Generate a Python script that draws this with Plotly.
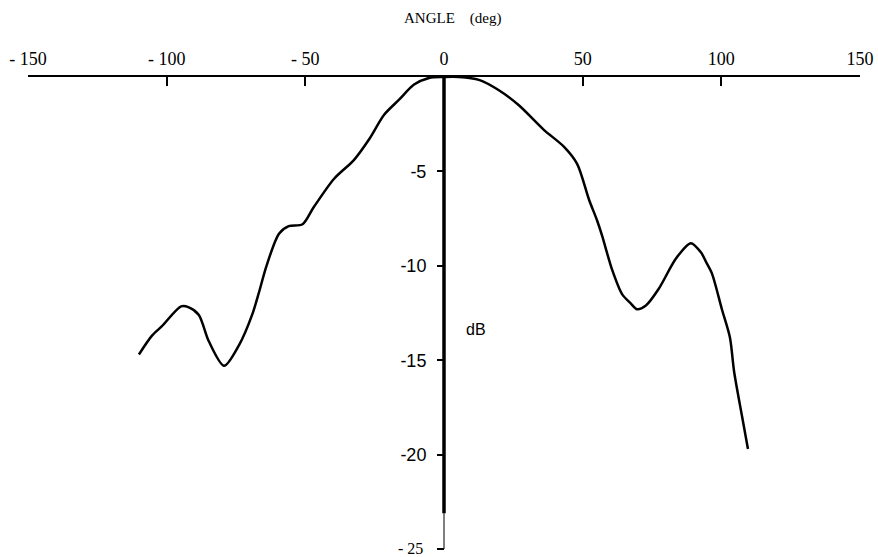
import plotly.graph_objects as go

angle_deg = [-110, -105.3, -101.7, -94.8, -92, -88.4, -84.8, -79.3, -73.9, -69.2, -66.7, -64,
             -59.5, -56, -51, -47, -39.7, -32.5, -27, -21.6, -16.2, -10.8, -5.4, 0,
             5.4, 12.6, 19.8, 27, 36, 43.3, 48, 52.3, 55.2, 57, 60.6, 64.2, 67.4, 69.6,
             72.8, 77.5, 83.7, 89, 92.7, 94.5, 96.6, 100.2, 103.1, 104.6, 107.5, 109.6]
gain_db = [-14.7, -13.7, -13.2, -12.15, -12.2, -12.6, -14.0, -15.3, -14.2, -12.6, -11.4, -10.0,
           -8.3, -7.9, -7.8, -6.9, -5.4, -4.4, -3.3, -2.0, -1.2, -0.4, -0.05, 0.0,
           0.0, -0.15, -0.7, -1.5, -2.8, -3.7, -4.6, -6.5, -7.6, -8.4, -10.2, -11.5, -12.0, -12.3,
           -12.1, -11.2, -9.6, -8.8, -9.3, -9.8, -10.4, -12.3, -13.8, -15.6, -18.0, -19.7]

x_tick_vals = [-150, -100, -50, 0, 50, 100, 150]
x_tick_text = ["- 150", "- 100", "- 50", "0", "50", "100", "150"]
y_tick_vals = [-5, -10, -15, -20, -25]
y_tick_text = ["-5", "-10", "-15", "-20", ""]

fig = go.Figure()
fig.add_trace(go.Scatter(x=angle_deg, y=gain_db, mode="lines",
                         line=dict(color="black", width=2.5, shape="spline", smoothing=0.8),
                         showlegend=False, hoverinfo="skip"))

# vertical dB axis at 0 deg
fig.add_shape(type="line", xref="x", yref="y", x0=0, x1=0, y0=0, y1=-23.1,
              line=dict(color="black", width=3.5), layer="above")
fig.add_shape(type="line", xref="x", yref="y", x0=0, x1=0, y0=-23.1, y1=-25,
              line=dict(color="black", width=1), layer="above")

fig.add_annotation(text="ANGLE\u00a0\u00a0\u00a0\u00a0(deg)", xref="x", x=3, yref="paper", y=1,
                   yanchor="bottom", yshift=48, showarrow=False,
                   font=dict(family="Liberation Serif", size=15, color="black"))
fig.add_annotation(text="dB", xref="x", x=11.6, yref="y", y=-13.35, showarrow=False,
                   font=dict(family="Liberation Sans", size=16, color="black"))
fig.add_annotation(text="- 25", xref="x", x=0, yref="y", y=-25, xanchor="right", xshift=-19,
                   yshift=1, showarrow=False,
                   font=dict(family="Liberation Serif", size=16, color="black"))

fig.update_layout(
    template="none",
    width=878, height=557,
    margin=dict(l=28, r=18, t=77, b=8, autoexpand=False),
    paper_bgcolor="white", plot_bgcolor="white",
    xaxis=dict(range=[-150, 150], side="top", showline=True, linewidth=2, linecolor="black",
               ticks="inside", ticklen=9, tickwidth=2, tickcolor="black",
               tickvals=x_tick_vals, ticktext=x_tick_text, ticklabelstandoff=3,
               tickfont=dict(family="Liberation Serif", size=18, color="black"),
               showgrid=False, zeroline=False, automargin=False),
    yaxis=dict(range=[-25, 0], anchor="free", position=0.5, showline=False,
               ticks="outside", ticklen=7, tickwidth=2, tickcolor="black",
               tickvals=y_tick_vals, ticktext=y_tick_text, ticklabelstandoff=7,
               tickfont=dict(family="Liberation Sans", size=18, color="black"),
               showgrid=False, zeroline=False, automargin=False),
)

fig.write_html("out.html", config={"displayModeBar": False},
               post_script="document.body.style.margin='0px';document.body.style.overflow='hidden';")
